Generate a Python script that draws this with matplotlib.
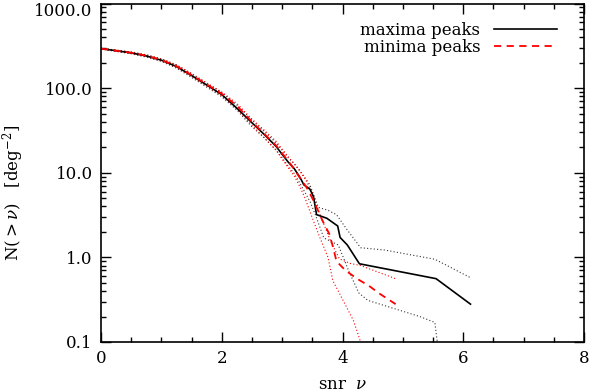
import numpy as np
import matplotlib
matplotlib.use("Agg")
import matplotlib.pyplot as plt
import matplotlib.transforms as mtransforms
from matplotlib.ticker import MultipleLocator, FixedLocator, FormatStrFormatter

plt.rcParams['font.family'] = 'DejaVu Serif'
plt.rcParams['mathtext.fontset'] = 'dejavuserif'
plt.rcParams['font.size'] = 12

# общая часть по оси x (кривые почти совпадают)
x_common = [0.0, 0.25, 0.5, 0.75, 1.0, 1.25, 1.5, 1.75, 2.0, 2.25, 2.5, 2.7, 2.9, 3.0, 3.1, 3.2, 3.3]

# максимумы
x_max = x_common + [3.36, 3.46, 3.52, 3.57, 3.74, 3.92, 3.96, 4.08, 4.28, 5.55, 6.12]
n_max = [293, 277, 261, 240, 214, 180, 141, 109, 84, 58, 39, 28.5, 20.5, 16.5, 13.4, 11.2, 8.7,
         7.2, 6.4, 5.2, 3.2, 2.9, 2.35, 1.72, 1.4, 0.84, 0.56, 0.28]

x_max_hi = x_common + [3.46, 3.6, 3.76, 3.9, 4.06, 4.3, 4.7, 5.53, 6.11]
n_max_hi = [296, 282, 268, 248, 222, 189, 149, 115, 89, 63, 42, 31, 22.5, 18.5, 15, 12.8, 10.5,
            7.2, 3.9, 3.6, 3.2, 2.2, 1.3, 1.22, 0.95, 0.58]

x_max_lo = x_common + [3.46, 3.55, 3.69, 3.93, 4.1, 4.27, 4.42, 5.28, 5.53, 5.57, 5.58]
n_max_lo = [290, 272, 255, 233, 207, 172, 134, 103, 79, 55, 35, 26, 18.5, 15, 12, 9.8, 7.4,
            4.6, 3.2, 1.7, 1.4, 0.7, 0.38, 0.31, 0.2, 0.17, 0.1, 0.05]

# минимумы
x_min = x_common + [3.4, 3.5, 3.6, 3.67, 3.78, 3.84, 3.9, 4.05, 4.24, 4.44, 4.62, 4.88]
n_min = [293, 277, 262, 242, 216, 182, 143, 111, 86, 62, 40, 29, 21, 17, 13.8, 11, 8.6,
         6.8, 5.0, 3.5, 2.7, 1.9, 1.35, 0.9, 0.7, 0.56, 0.46, 0.37, 0.28]

x_min_hi = x_common + [3.4, 3.5, 3.6, 3.82, 3.95, 4.12, 4.3, 4.88]
n_min_hi = [296, 281, 266, 247, 221, 188, 148, 115, 90, 66, 43, 32, 23.5, 19, 15.5, 12.8, 10.3,
            8.0, 5.8, 3.6, 1.45, 0.96, 0.85, 0.8, 0.56]

x_min_lo = x_common + [3.38, 3.51, 3.62, 3.76, 3.84, 4.01, 4.18, 4.3, 4.32]
n_min_lo = [290, 273, 257, 236, 210, 176, 138, 106, 81, 57, 36.5, 26, 18.5, 14.5, 11.5, 9.2, 6.7,
            5.0, 2.8, 1.75, 1.0, 0.53, 0.31, 0.18, 0.1, 0.05]

y_ticks = [0.1, 1, 10, 100, 1000]

fig = plt.figure(figsize=(5.89, 3.92), dpi=100)
ax = fig.add_axes([0.1715, 0.1276, 0.82, 0.8634])

dots = (0, (1, 2))
ax.plot(x_max_hi, n_max_hi, color='#333333', lw=0.8, ls=dots)
ax.plot(x_max_lo, n_max_lo, color='#333333', lw=0.8, ls=dots)
ax.plot(x_min_hi, n_min_hi, color='red', lw=0.8, ls=dots)
ax.plot(x_min_lo, n_min_lo, color='red', lw=0.8, ls=dots)
ax.plot(x_max, n_max, color='black', lw=1.2, label='maxima peaks')
ax.plot(x_min, n_min, color='red', lw=1.3, ls=(0, (4, 3)), label='minima peaks')

ax.set_yscale('log')
ax.set_xlim(0, 8)
ax.set_ylim(0.1, 1000)
ax.xaxis.set_major_locator(MultipleLocator(2))
ax.xaxis.set_minor_locator(MultipleLocator(0.5))
ax.yaxis.set_major_locator(FixedLocator(y_ticks))
ax.yaxis.set_major_formatter(FormatStrFormatter('%.1f'))
ax.tick_params(which='both', direction='in', top=True, right=True, width=1)
ax.tick_params(which='major', length=7, pad=6)
ax.tick_params(which='minor', length=3.5)
for s in ax.spines.values():
    s.set_linewidth(1.2)

# верхнюю подпись чуть опускаем, чтобы не обрезалась
fig.canvas.draw()
top_lbl = ax.yaxis.get_majorticklabels()[-1]
top_lbl.set_transform(top_lbl.get_transform() +
                      mtransforms.ScaledTranslation(0, -4 / 72, fig.dpi_scale_trans))

ax.set_xlabel(r'snr  $\nu$', labelpad=6)
ax.set_ylabel(r'N($>\nu$)   [deg$^{-2}$]')
ax.yaxis.set_label_coords(-0.155, 0.44)

ax.legend(loc='upper right', bbox_to_anchor=(0.975, 0.99), frameon=False,
          markerfirst=False, handlelength=3.8, handletextpad=0.8,
          labelspacing=0.0, fontsize=12)

fig.savefig('out.png', dpi=100)
